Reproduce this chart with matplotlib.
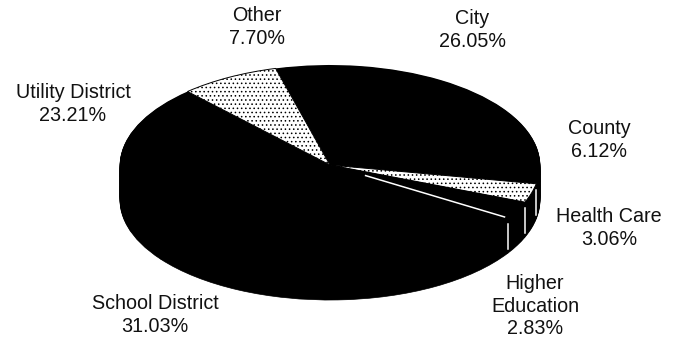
import numpy as np
import matplotlib
matplotlib.use('Agg')
import matplotlib.pyplot as plt

labels = ['City', 'County', 'Health Care', 'Higher\nEducation', 'School District', 'Utility District', 'Other']
values = [26.05, 6.12, 3.06, 2.83, 31.03, 23.21, 7.70]
colors = ['black', 'black', 'white', 'black', 'black', 'black', 'white']

# label centres in pixels of the 679x340 picture
label_x = [472, 599, 609, 535, 155, 73, 257]
label_y = [30, 140, 228, 306, 315, 104, 27]

W, H = 679, 340
cx, cy = 330, 165   # pie centre, pixels
rx, ry = 210, 100   # ellipse radii, pixels
depth = 0.35        # wall height in units of ry
start = 105

plt.rcParams['font.family'] = ['Liberation Sans', 'DejaVu Sans']
plt.rcParams['hatch.linewidth'] = 0.6

fig = plt.figure(figsize=(W / 100, H / 100), dpi=100)
ax = fig.add_axes([0, 0, 1, 1])

# side wall: black copies of the pie stepped downwards
for dz in np.linspace(depth, 0.01, 40):
    ax.pie(values, startangle=start, counterclock=False, center=(0, -dz),
           colors=['black'] * len(values), wedgeprops={'linewidth': 0.5, 'edgecolor': 'black'})

# top face
wedges, _ = ax.pie(values, startangle=start, counterclock=False, colors=colors,
                   wedgeprops={'linewidth': 0})
for w, c in zip(wedges, colors):
    if c == 'white':
        w.set_hatch('....')
        w.set_edgecolor('black')
        w.set_linewidth(0.7)

ax.set_aspect('auto')
ax.set_xlim(-cx / rx, (W - cx) / rx)
ax.set_ylim((cy - H) / ry, cy / ry)
ax.axis('off')

# white slice edges on the wall and the top face
ends = start - np.cumsum(values) * 3.6
for i in [1, 2, 3]:
    a = np.radians(ends[i])
    ax.plot([np.cos(a)] * 2, [np.sin(a) - 0.06, np.sin(a) - depth + 0.04], color='white', lw=1.1)
a = np.radians(ends[3])
ax.plot([0.2 * np.cos(a), 0.98 * np.cos(a)], [0.2 * np.sin(a), 0.98 * np.sin(a)], color='white', lw=1.1)

for t, v, x, y in zip(labels, values, label_x, label_y):
    fig.text(x / W, 1 - y / H, f'{t}\n{v:.2f}%', ha='center', va='center',
             fontsize=14.2, color='#111111', linespacing=1.25)

fig.savefig('out.png', dpi=100)
